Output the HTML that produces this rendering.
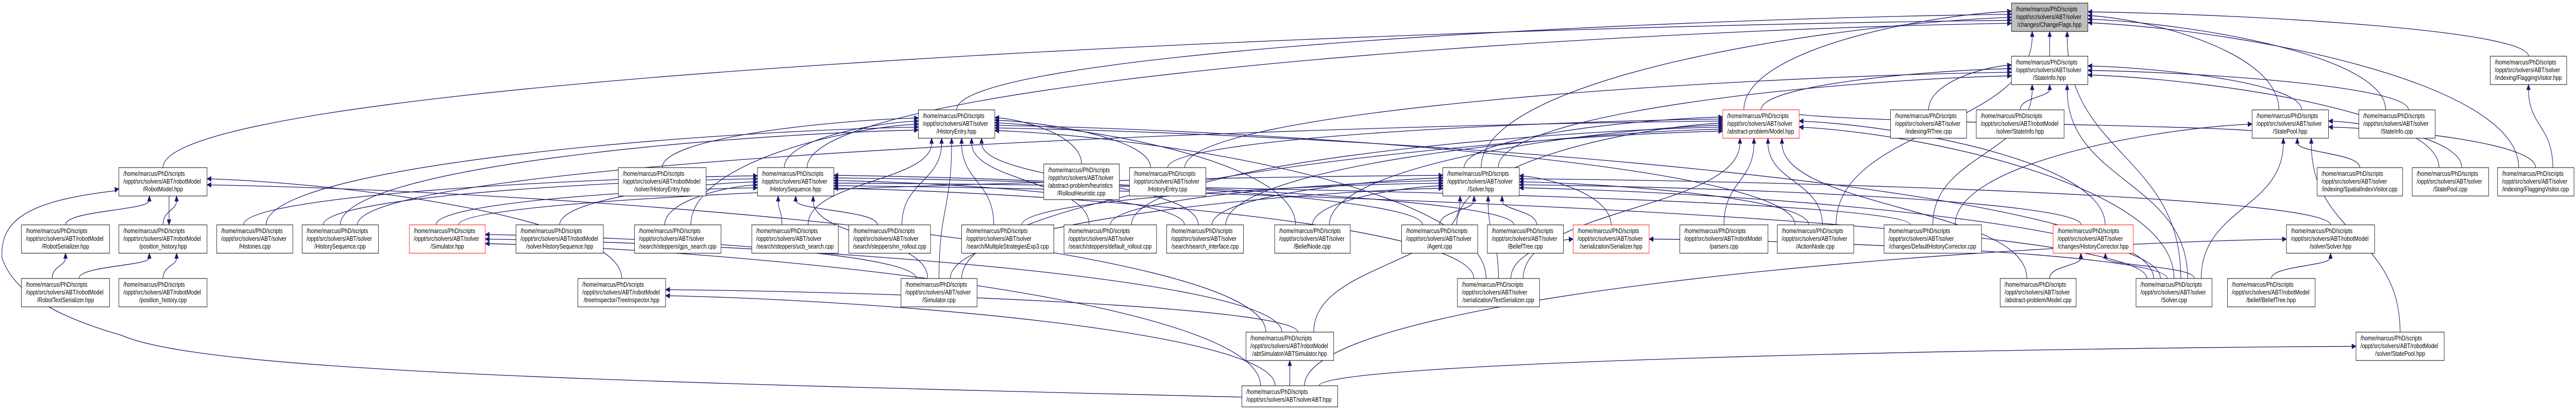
<!DOCTYPE html>
<html><head><meta charset="utf-8">
<style>
html,body{margin:0;padding:0;background:#fff;overflow:hidden;width:100vw;height:100vh;}
svg{display:block;position:absolute;left:0;top:0;width:100vw;height:100vh;}
text{font-family:"Liberation Sans",Arial,sans-serif;font-size:13px;fill:#000;}
</style></head>
<body>
<svg id="g" xmlns="http://www.w3.org/2000/svg" width="100%" height="100%" viewBox="0 0 6370 795" preserveAspectRatio="none" overflow="hidden">
<rect width="6370" height="795" fill="#fff"/>
<g id="edges" fill="none" stroke="#191970" stroke-width="1.3"></g>
<g id="heads" fill="#191970" stroke="#191970" stroke-width="1"></g>
<g id="nodes">
<rect x="4974" y="6" width="189" height="55" fill="#bfbfbf" stroke="#000"/><text x="4985" y="22">/home/marcus/PhD/scripts</text><text x="4985" y="37">/oppt/src/solvers/ABT/solver</text><text x="5068" y="52" text-anchor="middle">/changes/ChangeFlags.hpp</text>
<rect x="4974" y="109" width="189" height="55" fill="#fff" stroke="#000"/><text x="4985" y="125">/home/marcus/PhD/scripts</text><text x="4985" y="140">/oppt/src/solvers/ABT/solver</text><text x="5068" y="155" text-anchor="middle">/StateInfo.hpp</text>
<rect x="6158" y="109" width="189" height="55" fill="#fff" stroke="#000"/><text x="6169" y="125">/home/marcus/PhD/scripts</text><text x="6169" y="140">/oppt/src/solvers/ABT/solver</text><text x="6252" y="155" text-anchor="middle">/indexing/FlaggingVisitor.hpp</text>
<rect x="2271" y="213" width="189" height="55" fill="#fff" stroke="#000"/><text x="2282" y="229">/home/marcus/PhD/scripts</text><text x="2282" y="244">/oppt/src/solvers/ABT/solver</text><text x="2365" y="259" text-anchor="middle">/HistoryEntry.hpp</text>
<rect x="4260" y="213" width="189" height="55" fill="#fff" stroke="#ff0000"/><text x="4271" y="229">/home/marcus/PhD/scripts</text><text x="4271" y="244">/oppt/src/solvers/ABT/solver</text><text x="4354" y="259" text-anchor="middle">/abstract-problem/Model.hpp</text>
<rect x="4675" y="213" width="188" height="55" fill="#fff" stroke="#000"/><text x="4686" y="229">/home/marcus/PhD/scripts</text><text x="4686" y="244">/oppt/src/solvers/ABT/solver</text><text x="4769" y="259" text-anchor="middle">/indexing/RTree.cpp</text>
<rect x="4887" y="213" width="217" height="55" fill="#fff" stroke="#000"/><text x="4898" y="229">/home/marcus/PhD/scripts</text><text x="4898" y="244">/oppt/src/solvers/ABT/robotModel</text><text x="4995" y="259" text-anchor="middle">/solver/StateInfo.hpp</text>
<rect x="5569" y="213" width="189" height="55" fill="#fff" stroke="#000"/><text x="5580" y="229">/home/marcus/PhD/scripts</text><text x="5580" y="244">/oppt/src/solvers/ABT/solver</text><text x="5663" y="259" text-anchor="middle">/StatePool.hpp</text>
<rect x="5833" y="213" width="189" height="55" fill="#fff" stroke="#000"/><text x="5844" y="229">/home/marcus/PhD/scripts</text><text x="5844" y="244">/oppt/src/solvers/ABT/solver</text><text x="5927" y="259" text-anchor="middle">/StateInfo.cpp</text>
<rect x="294" y="325" width="218" height="55" fill="#fff" stroke="#000"/><text x="305" y="341">/home/marcus/PhD/scripts</text><text x="305" y="356">/oppt/src/solvers/ABT/robotModel</text><text x="403" y="371" text-anchor="middle">/RobotModel.hpp</text>
<rect x="1529" y="325" width="217" height="55" fill="#fff" stroke="#000"/><text x="1540" y="341">/home/marcus/PhD/scripts</text><text x="1540" y="356">/oppt/src/solvers/ABT/robotModel</text><text x="1637" y="371" text-anchor="middle">/solver/HistoryEntry.hpp</text>
<rect x="1873" y="325" width="189" height="55" fill="#fff" stroke="#000"/><text x="1884" y="341">/home/marcus/PhD/scripts</text><text x="1884" y="356">/oppt/src/solvers/ABT/solver</text><text x="1967" y="371" text-anchor="middle">/HistorySequence.hpp</text>
<rect x="2581" y="318" width="187" height="69" fill="#fff" stroke="#000"/><text x="2592" y="334">/home/marcus/PhD/scripts</text><text x="2592" y="349">/oppt/src/solvers/ABT/solver</text><text x="2592" y="364">/abstract-problem/heuristics</text><text x="2674" y="379" text-anchor="middle">/RolloutHeuristic.cpp</text>
<rect x="2793" y="325" width="189" height="55" fill="#fff" stroke="#000"/><text x="2804" y="341">/home/marcus/PhD/scripts</text><text x="2804" y="356">/oppt/src/solvers/ABT/solver</text><text x="2887" y="371" text-anchor="middle">/HistoryEntry.cpp</text>
<rect x="3568" y="325" width="189" height="55" fill="#fff" stroke="#000"/><text x="3579" y="341">/home/marcus/PhD/scripts</text><text x="3579" y="356">/oppt/src/solvers/ABT/solver</text><text x="3662" y="371" text-anchor="middle">/Solver.hpp</text>
<rect x="5730" y="325" width="211" height="55" fill="#fff" stroke="#000"/><text x="5741" y="341">/home/marcus/PhD/scripts</text><text x="5741" y="356">/oppt/src/solvers/ABT/solver</text><text x="5835" y="371" text-anchor="middle">/indexing/SpatialIndexVisitor.cpp</text>
<rect x="5965" y="325" width="189" height="55" fill="#fff" stroke="#000"/><text x="5976" y="341">/home/marcus/PhD/scripts</text><text x="5976" y="356">/oppt/src/solvers/ABT/solver</text><text x="6059" y="371" text-anchor="middle">/StatePool.cpp</text>
<rect x="6176" y="325" width="189" height="55" fill="#fff" stroke="#000"/><text x="6187" y="341">/home/marcus/PhD/scripts</text><text x="6187" y="356">/oppt/src/solvers/ABT/solver</text><text x="6270" y="371" text-anchor="middle">/indexing/FlaggingVisitor.cpp</text>
<rect x="53" y="436" width="218" height="55" fill="#fff" stroke="#000"/><text x="64" y="452">/home/marcus/PhD/scripts</text><text x="64" y="467">/oppt/src/solvers/ABT/robotModel</text><text x="162" y="482" text-anchor="middle">/RobotSerializer.hpp</text>
<rect x="294" y="436" width="218" height="55" fill="#fff" stroke="#000"/><text x="305" y="452">/home/marcus/PhD/scripts</text><text x="305" y="467">/oppt/src/solvers/ABT/robotModel</text><text x="403" y="482" text-anchor="middle">/position_history.hpp</text>
<rect x="536" y="436" width="188" height="55" fill="#fff" stroke="#000"/><text x="547" y="452">/home/marcus/PhD/scripts</text><text x="547" y="467">/oppt/src/solvers/ABT/solver</text><text x="630" y="482" text-anchor="middle">/Histories.cpp</text>
<rect x="747" y="436" width="189" height="55" fill="#fff" stroke="#000"/><text x="758" y="452">/home/marcus/PhD/scripts</text><text x="758" y="467">/oppt/src/solvers/ABT/solver</text><text x="841" y="482" text-anchor="middle">/HistorySequence.cpp</text>
<rect x="1012" y="436" width="188" height="55" fill="#fff" stroke="#ff0000"/><text x="1023" y="452">/home/marcus/PhD/scripts</text><text x="1023" y="467">/oppt/src/solvers/ABT/solver</text><text x="1106" y="482" text-anchor="middle">/Simulator.hpp</text>
<rect x="1276" y="436" width="216" height="55" fill="#fff" stroke="#000"/><text x="1287" y="452">/home/marcus/PhD/scripts</text><text x="1287" y="467">/oppt/src/solvers/ABT/robotModel</text><text x="1384" y="482" text-anchor="middle">/solver/HistorySequence.hpp</text>
<rect x="1569" y="436" width="214" height="55" fill="#fff" stroke="#000"/><text x="1580" y="452">/home/marcus/PhD/scripts</text><text x="1580" y="467">/oppt/src/solvers/ABT/solver</text><text x="1676" y="482" text-anchor="middle">/search/steppers/gps_search.cpp</text>
<rect x="1859" y="436" width="214" height="55" fill="#fff" stroke="#000"/><text x="1870" y="452">/home/marcus/PhD/scripts</text><text x="1870" y="467">/oppt/src/solvers/ABT/solver</text><text x="1966" y="482" text-anchor="middle">/search/steppers/ucb_search.cpp</text>
<rect x="2099" y="436" width="202" height="55" fill="#fff" stroke="#000"/><text x="2110" y="452">/home/marcus/PhD/scripts</text><text x="2110" y="467">/oppt/src/solvers/ABT/solver</text><text x="2200" y="482" text-anchor="middle">/search/steppers/nn_rollout.cpp</text>
<rect x="2378" y="436" width="228" height="55" fill="#fff" stroke="#000"/><text x="2389" y="452">/home/marcus/PhD/scripts</text><text x="2389" y="467">/oppt/src/solvers/ABT/solver</text><text x="2492" y="482" text-anchor="middle">/search/MultipleStrategiesExp3.cpp</text>
<rect x="2631" y="436" width="229" height="55" fill="#fff" stroke="#000"/><text x="2642" y="452">/home/marcus/PhD/scripts</text><text x="2642" y="467">/oppt/src/solvers/ABT/solver</text><text x="2745" y="482" text-anchor="middle">/search/steppers/default_rollout.cpp</text>
<rect x="2885" y="436" width="190" height="55" fill="#fff" stroke="#000"/><text x="2896" y="452">/home/marcus/PhD/scripts</text><text x="2896" y="467">/oppt/src/solvers/ABT/solver</text><text x="2980" y="482" text-anchor="middle">/search/search_interface.cpp</text>
<rect x="3152" y="436" width="187" height="55" fill="#fff" stroke="#000"/><text x="3163" y="452">/home/marcus/PhD/scripts</text><text x="3163" y="467">/oppt/src/solvers/ABT/solver</text><text x="3245" y="482" text-anchor="middle">/BeliefNode.cpp</text>
<rect x="3466" y="436" width="188" height="55" fill="#fff" stroke="#000"/><text x="3477" y="452">/home/marcus/PhD/scripts</text><text x="3477" y="467">/oppt/src/solvers/ABT/solver</text><text x="3560" y="482" text-anchor="middle">/Agent.cpp</text>
<rect x="3678" y="436" width="188" height="55" fill="#fff" stroke="#000"/><text x="3689" y="452">/home/marcus/PhD/scripts</text><text x="3689" y="467">/oppt/src/solvers/ABT/solver</text><text x="3772" y="482" text-anchor="middle">/BeliefTree.cpp</text>
<rect x="3890" y="436" width="188" height="55" fill="#fff" stroke="#ff0000"/><text x="3901" y="452">/home/marcus/PhD/scripts</text><text x="3901" y="467">/oppt/src/solvers/ABT/solver</text><text x="3984" y="482" text-anchor="middle">/serialization/Serializer.hpp</text>
<rect x="4154" y="436" width="218" height="55" fill="#fff" stroke="#000"/><text x="4165" y="452">/home/marcus/PhD/scripts</text><text x="4165" y="467">/oppt/src/solvers/ABT/robotModel</text><text x="4263" y="482" text-anchor="middle">/parsers.cpp</text>
<rect x="4395" y="436" width="189" height="55" fill="#fff" stroke="#000"/><text x="4406" y="452">/home/marcus/PhD/scripts</text><text x="4406" y="467">/oppt/src/solvers/ABT/solver</text><text x="4489" y="482" text-anchor="middle">/ActionNode.cpp</text>
<rect x="4659" y="436" width="241" height="55" fill="#fff" stroke="#000"/><text x="4670" y="452">/home/marcus/PhD/scripts</text><text x="4670" y="467">/oppt/src/solvers/ABT/solver</text><text x="4779" y="482" text-anchor="middle">/changes/DefaultHistoryCorrector.cpp</text>
<rect x="5077" y="436" width="198" height="55" fill="#fff" stroke="#ff0000"/><text x="5088" y="452">/home/marcus/PhD/scripts</text><text x="5088" y="467">/oppt/src/solvers/ABT/solver</text><text x="5176" y="482" text-anchor="middle">/changes/HistoryCorrector.hpp</text>
<rect x="5654" y="436" width="218" height="55" fill="#fff" stroke="#000"/><text x="5665" y="452">/home/marcus/PhD/scripts</text><text x="5665" y="467">/oppt/src/solvers/ABT/robotModel</text><text x="5763" y="482" text-anchor="middle">/solver/Solver.hpp</text>
<rect x="53" y="540" width="218" height="55" fill="#fff" stroke="#000"/><text x="64" y="556">/home/marcus/PhD/scripts</text><text x="64" y="571">/oppt/src/solvers/ABT/robotModel</text><text x="162" y="586" text-anchor="middle">/RobotTextSerializer.hpp</text>
<rect x="294" y="540" width="218" height="55" fill="#fff" stroke="#000"/><text x="305" y="556">/home/marcus/PhD/scripts</text><text x="305" y="571">/oppt/src/solvers/ABT/robotModel</text><text x="403" y="586" text-anchor="middle">/position_history.cpp</text>
<rect x="1429" y="540" width="217" height="55" fill="#fff" stroke="#000"/><text x="1440" y="556">/home/marcus/PhD/scripts</text><text x="1440" y="571">/oppt/src/solvers/ABT/robotModel</text><text x="1537" y="586" text-anchor="middle">/treeInspector/TreeInspector.hpp</text>
<rect x="2228" y="540" width="188" height="55" fill="#fff" stroke="#000"/><text x="2239" y="556">/home/marcus/PhD/scripts</text><text x="2239" y="571">/oppt/src/solvers/ABT/solver</text><text x="2322" y="586" text-anchor="middle">/Simulator.cpp</text>
<rect x="3604" y="540" width="203" height="55" fill="#fff" stroke="#000"/><text x="3615" y="556">/home/marcus/PhD/scripts</text><text x="3615" y="571">/oppt/src/solvers/ABT/solver</text><text x="3705" y="586" text-anchor="middle">/serialization/TextSerializer.cpp</text>
<rect x="4946" y="540" width="188" height="55" fill="#fff" stroke="#000"/><text x="4957" y="556">/home/marcus/PhD/scripts</text><text x="4957" y="571">/oppt/src/solvers/ABT/solver</text><text x="5040" y="586" text-anchor="middle">/abstract-problem/Model.cpp</text>
<rect x="5282" y="540" width="188" height="55" fill="#fff" stroke="#000"/><text x="5293" y="556">/home/marcus/PhD/scripts</text><text x="5293" y="571">/oppt/src/solvers/ABT/solver</text><text x="5376" y="586" text-anchor="middle">/Solver.cpp</text>
<rect x="5508" y="540" width="217" height="55" fill="#fff" stroke="#000"/><text x="5519" y="556">/home/marcus/PhD/scripts</text><text x="5519" y="571">/oppt/src/solvers/ABT/robotModel</text><text x="5616" y="586" text-anchor="middle">/belief/BeliefTree.hpp</text>
<rect x="3081" y="644" width="217" height="55" fill="#fff" stroke="#000"/><text x="3092" y="660">/home/marcus/PhD/scripts</text><text x="3092" y="675">/oppt/src/solvers/ABT/robotModel</text><text x="3189" y="690" text-anchor="middle">/abtSimulator/ABTSimulator.hpp</text>
<rect x="5826" y="644" width="218" height="55" fill="#fff" stroke="#000"/><text x="5837" y="660">/home/marcus/PhD/scripts</text><text x="5837" y="675">/oppt/src/solvers/ABT/robotModel</text><text x="5935" y="690" text-anchor="middle">/solver/StatePool.hpp</text>
<rect x="3071" y="748" width="237" height="41" fill="#fff" stroke="#000"/><text x="3082" y="764">/home/marcus/PhD/scripts</text><text x="3082" y="779">/oppt/src/solvers/ABT/solverABT.hpp</text>
</g>
</svg>
<script>
(function(){
var N={
CF:[4974,6,189,55],SIh:[4974,109,189,55],FVh:[6158,109,189,55],
HEh:[2271,213,189,55],MOh:[4260,213,189,55],RT:[4675,213,188,55],rSI:[4887,213,217,55],SPh:[5569,213,189,55],SIc:[5833,213,189,55],
RM:[294,325,218,55],rHE:[1529,325,217,55],HSh:[1873,325,189,55],RH:[2581,318,187,69],HEc:[2793,325,189,55],SVh:[3568,325,189,55],SIV:[5730,325,211,55],SPc:[5965,325,189,55],FVc:[6176,325,189,55],
RS:[53,436,218,55],PHh:[294,436,218,55],HIc:[536,436,188,55],HSc:[747,436,189,55],SMh:[1012,436,188,55],rHS:[1276,436,216,55],GPS:[1569,436,214,55],UCB:[1859,436,214,55],NN:[2099,436,202,55],MSE:[2378,436,228,55],DR:[2631,436,229,55],SI:[2885,436,190,55],BN:[3152,436,187,55],AG:[3466,436,188,55],BT:[3678,436,188,55],SZ:[3890,436,188,55],PA:[4154,436,218,55],AN:[4395,436,189,55],DHC:[4659,436,241,55],HC:[5077,436,198,55],rSV:[5654,436,218,55],
RTS:[53,540,218,55],PHc:[294,540,218,55],TI:[1429,540,217,55],SMc:[2228,540,188,55],TSc:[3604,540,203,55],MOc:[4946,540,188,55],SVc:[5282,540,188,55],rBT:[5508,540,217,55],
ABS:[3081,644,217,55],rSP:[5826,644,218,55],ABT:[3071,748,237,41]};
var E=[];
function add(d,list){list.forEach(function(s){E.push([s,d]);});}
add('CF',['SIh','MOh','HEh','SVh','RM','HSh','AN','SPh','FVh','SIc','SVc','FVc']);
add('SIh',['RT','rSI','MOh','HEc','SVh','SPh','SIc','SPc','SVc','DHC']);
add('MOh',['SVh','HSc','AG','BN','AN','MOc','SMc','SVc','HC','DR','SI','PA','TSc','HEc']);
add('HEh',['rHE','HSh','HEc','RH','GPS','UCB','NN','MSE','DR','SI','BN','AN','SVc','TSc','HIc','HSc','SMc']);
add('HSh',['HIc','HSc','rHS','GPS','UCB','NN','SMh','SVc','AG','BT','TSc','SMc','SI','DHC']);
add('SVh',['AG','BT','SZ','TSc','SMh','SVc','rSV','ABS','SI','DR','MSE','BN','AN','HC','SMc']);
add('SPh',['SIV','SPc','FVc','SVc','rSP','MOh','DHC']);
add('FVh',['FVc']);
add('RM',['RS','PHh','TI','ABS']);
add('PHh',['RTS','PHc']);
add('RS',['RTS']);
add('SMh',['SMc','ABS','ABT']);
add('SZ',['TSc','SVc']);
add('HC',['MOc','SVc']);
add('rSV',['rBT','ABT']);
add('TI',['ABT','ABS']);
add('ABS',['ABT']);
add('rSP',['ABT']);
var eg=document.getElementById('edges'),hg=document.getElementById('heads');
var NS='http://www.w3.org/2000/svg';
function cx(b){return b[0]+b[2]/2;}
var ends={},starts={};
E.forEach(function(e,i){
 var s=N[e[0]],d=N[e[1]];
 var dx=cx(s)-cx(d), gap=s[1]-(d[1]+d[3]);
 var side='b';
 var hd=Math.max(0,Math.abs(dx)-d[2]/2);
 if(gap>0 && hd>3.2*gap){side=dx<0?'l':'r';}
 e.side=side;
 var k=e[1]+':'+side;(ends[k]=ends[k]||[]).push(i);
 (starts[e[0]]=starts[e[0]]||[]).push(i);
});
var EP=[],SP=[];
Object.keys(ends).forEach(function(k){
 var arr=ends[k],d=N[k.split(':')[0]],side=k.split(':')[1];
 arr.sort(function(a,b){var sa=N[E[a][0]],sb=N[E[b][0]];return side=='b'?cx(sa)-cx(sb):(sa[1]-sb[1]);});
 arr.forEach(function(i,j){
  var t=(j+1)/(arr.length+1);
  if(side=='b') EP[i]=[d[0]+8+t*(d[2]-16),d[1]+d[3]];
  else if(side=='l') EP[i]=[d[0],d[1]+10+t*(d[3]-20)];
  else EP[i]=[d[0]+d[2],d[1]+10+t*(d[3]-20)];
 });
});
Object.keys(starts).forEach(function(k){
 var arr=starts[k],s=N[k];
 arr.sort(function(a,b){return EP[a][0]-EP[b][0];});
 arr.forEach(function(i,j){var t=(j+1)/(arr.length+1);SP[i]=[s[0]+10+t*(s[2]-20),s[1]];});
});
function head(x,y,ux,uy){
 var L=10,W=4.5,bx=x-ux*L,by=y-uy*L;
 var p=document.createElementNS(NS,'polygon');
 p.setAttribute('points',x+','+y+' '+(bx-uy*W)+','+(by+ux*W)+' '+(bx+uy*W)+','+(by-ux*W));
 hg.appendChild(p);
}
function path(d){var p=document.createElementNS(NS,'path');p.setAttribute('d',d);eg.appendChild(p);}
E.forEach(function(e,i){
 var s=SP[i],t=EP[i],c1,c2;
 var dy=s[1]-t[1];
 if(e.side=='b'){c1=[s[0],s[1]-dy*0.5];c2=[t[0],t[1]+dy*0.5];}
 else{var ddx=t[0]-s[0];c1=[s[0],s[1]-Math.max(40,dy*0.6)];c2=[t[0]-ddx*0.35,t[1]+(s[1]-t[1])*0.05];}
 var ux=t[0]-c2[0],uy=t[1]-c2[1],l=Math.sqrt(ux*ux+uy*uy)||1;ux/=l;uy/=l;
 var ex=t[0]-ux*9,ey=t[1]-uy*9;
 path('M'+s[0]+','+s[1]+' C'+c1[0]+','+c1[1]+' '+c2[0]+','+c2[1]+' '+ex+','+ey);
 head(t[0],t[1],ux,uy);
});
path('M3071,770 C1500,740 500,720 300,650 C120,610 30,560 5,500 C0,430 60,390 285,370');head(294,366,0.97,-0.2);
path('M418,380 L418,426');head(418,436,0,1);
})();
</script>
</body></html>
